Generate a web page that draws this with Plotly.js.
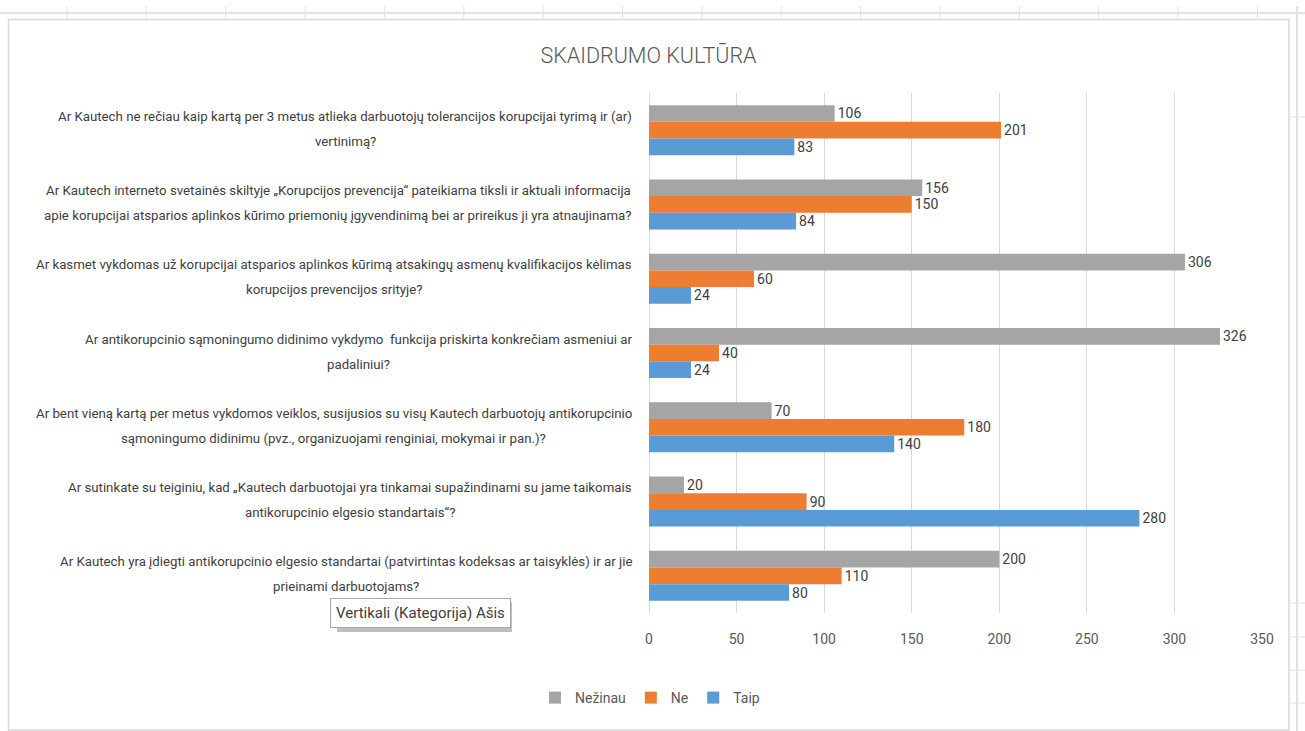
<!DOCTYPE html>
<html>
<head>
<meta charset="utf-8">
<script src="https://cdn.plot.ly/plotly-3.0.1.min.js"></script>
<style>
  html, body { margin: 0; padding: 0; background: #ffffff; }
  #chart { width: 1305px; height: 731px; }
</style>
</head>
<body>
<div id="chart"></div>
<script>
// ---- data ----
const categories = [
  "Ar Kautech ne rečiau kaip kartą per 3 metus atlieka darbuotojų tolerancijos korupcijai tyrimą ir (ar)\nvertinimą?",
  "Ar Kautech interneto svetainės skiltyje „Korupcijos prevencija“ pateikiama tiksli ir aktuali informacija\napie korupcijai atsparios aplinkos kūrimo priemonių įgyvendinimą bei ar prireikus ji yra atnaujinama?",
  "Ar kasmet vykdomas už korupcijai atsparios aplinkos kūrimą atsakingų asmenų kvalifikacijos kėlimas\nkorupcijos prevencijos srityje?",
  "Ar antikorupcinio sąmoningumo didinimo vykdymo  funkcija priskirta konkrečiam asmeniui ar\npadaliniui?",
  "Ar bent vieną kartą per metus vykdomos veiklos, susijusios su visų Kautech darbuotojų antikorupcinio\nsąmoningumo didinimu (pvz., organizuojami renginiai, mokymai ir pan.)?",
  "Ar sutinkate su teiginiu, kad „Kautech darbuotojai yra tinkamai supažindinami su jame taikomais\nantikorupcinio elgesio standartais“?",
  "Ar Kautech yra įdiegti antikorupcinio elgesio standartai (patvirtintas kodeksas ar taisyklės) ir ar jie\nprieinami darbuotojams?"
];
const seriesNames = ["Nežinau", "Ne", "Taip"];
const nezinau = [106, 156, 306, 326, 70, 20, 200];
const ne      = [201, 150, 60, 40, 180, 90, 110];
const taip    = [83, 84, 24, 24, 140, 280, 80];
const xTicks  = [0, 50, 100, 150, 200, 250, 300, 350];
const titleText = "SKAIDRUMO KULTŪRA";
const tooltipText = "Vertikali (Kategorija) Ašis";

// ---- styles ----
const FONT = "Roboto, 'Liberation Sans', sans-serif";
const colors = ["#A5A5A5", "#ED7D31", "#5B9BD5"];
const W = 1305, H = 731;
const PL = 649, PR = 1262, PT = 93, PB = 613;
const px2x = p => (p - PL) / (PR - PL);
const py2y = p => (PB - p) / (PB - PT);

const values = [nezinau, ne, taip];
const traces = values.map((v, i) => ({
  type: "bar",
  orientation: "h",
  name: seriesNames[i],
  y: categories,
  x: v,
  text: v.map(String),
  textposition: "outside",
  cliponaxis: false,
  textfont: { family: FONT, size: 14, color: "#404040" },
  marker: { color: colors[i] },
  hoverinfo: "x+name"
}));

// fit label font so the widest line spans like the reference (~597px), center lines like Excel
const cv = document.createElement("canvas").getContext("2d");
cv.font = "14px " + FONT;
const widest14 = Math.max(...categories.flatMap(c => c.split("\n")).map(l => cv.measureText(l).width));
const LABEL_SIZE = Math.min(15, 14 * 597 / widest14);
cv.font = LABEL_SIZE + "px " + FONT;
const annotations = [];
categories.forEach(c => {
  const lines = c.split("\n");
  const maxW = Math.max(...lines.map(l => cv.measureText(l).width));
  const shifts = lines.length === 2 ? [14, -11] : [0];
  lines.forEach((l, j) => {
    annotations.push({
      xref: "paper", yref: "y", x: 0, y: c,
      xanchor: "center", yanchor: "middle",
      xshift: -(17 + maxW / 2), yshift: shifts[j],
      text: l, showarrow: false,
      font: { family: FONT, size: LABEL_SIZE, color: "#404040" }
    });
  });
});
annotations.push({
  xref: "paper", yref: "paper", x: px2x(420.5), y: py2y(613),
  xanchor: "center", yanchor: "middle", showarrow: false,
  text: tooltipText,
  font: { family: FONT, size: 15, color: "#404040" },
  bgcolor: "#ffffff", bordercolor: "#A6A6A6", borderwidth: 1, borderpad: 5
});

// decorative frame / spreadsheet gridlines (pixel -> paper)
const shapes = [];
const L = (x0, y0, x1, y1, color, w) => shapes.push({
  type: "line", xref: "paper", yref: "paper", layer: "below",
  x0: px2x(x0), y0: py2y(y0), x1: px2x(x1), y1: py2y(y1),
  line: { color: color, width: w }
});
L(0, 13, 1305, 13, "#E2E2E2", 2);
for (let k = 0; k < 16; k++) { const x = 67 + k * 79.36; L(x, 6, x, 19, "#E2E2E2", 1); }
L(1297, 6, 1297, 731, "#E2E2E2", 2);
[117, 603, 637, 670, 703].forEach(y => L(1289, y, 1305, y, "#E2E2E2", 1));
shapes.push({
  type: "rect", xref: "paper", yref: "paper", layer: "below",
  x0: px2x(8.5), y0: py2y(19.5), x1: px2x(1289), y1: py2y(730),
  line: { color: "#D9D9D9", width: 1.5 }, fillcolor: "#ffffff"
});
shapes.push({
  type: "rect", xref: "paper", yref: "paper", layer: "above",
  x0: px2x(337), y0: py2y(602), x1: px2x(512), y1: py2y(632),
  line: { width: 0 }, fillcolor: "#BFBFBF"
});

const layout = {
  width: W, height: H,
  margin: { l: PL, r: W - PR, t: PT, b: H - PB, pad: 0 },
  paper_bgcolor: "#ffffff", plot_bgcolor: "#ffffff",
  font: { family: FONT, color: "#595959" },
  title: {
    text: titleText, xref: "container", yref: "container",
    x: 648.5 / W, y: 1 - 55 / H, xanchor: "center", yanchor: "middle",
    font: { family: FONT, size: 21.5, color: "#595959", weight: 300 }
  },
  barmode: "group", bargap: 0.327, bargroupgap: 0,
  xaxis: {
    range: [0, 350], tickvals: xTicks, ticktext: xTicks.map(String),
    showgrid: true, gridcolor: "#D9D9D9", gridwidth: 1,
    zeroline: true, zerolinecolor: "#D9D9D9", zerolinewidth: 1,
    showline: false, ticks: "", ticklabelstandoff: 16,
    tickfont: { family: FONT, size: 14, color: "#595959" }, fixedrange: true
  },
  yaxis: {
    type: "category", autorange: "reversed", categoryorder: "array", categoryarray: categories,
    showticklabels: false, showgrid: false, zeroline: false, showline: false, ticks: "",
    fixedrange: true
  },
  showlegend: true,
  legend: {
    orientation: "h", x: px2x(650), xanchor: "center", y: py2y(698), yanchor: "middle",
    font: { family: FONT, size: 14, color: "#595959" }, traceorder: "normal",
    itemwidth: 30, bgcolor: "rgba(0,0,0,0)"
  },
  annotations: annotations,
  shapes: shapes
};

Plotly.newPlot("chart", traces, layout, { displayModeBar: false, staticPlot: false });
</script>
</body>
</html>
